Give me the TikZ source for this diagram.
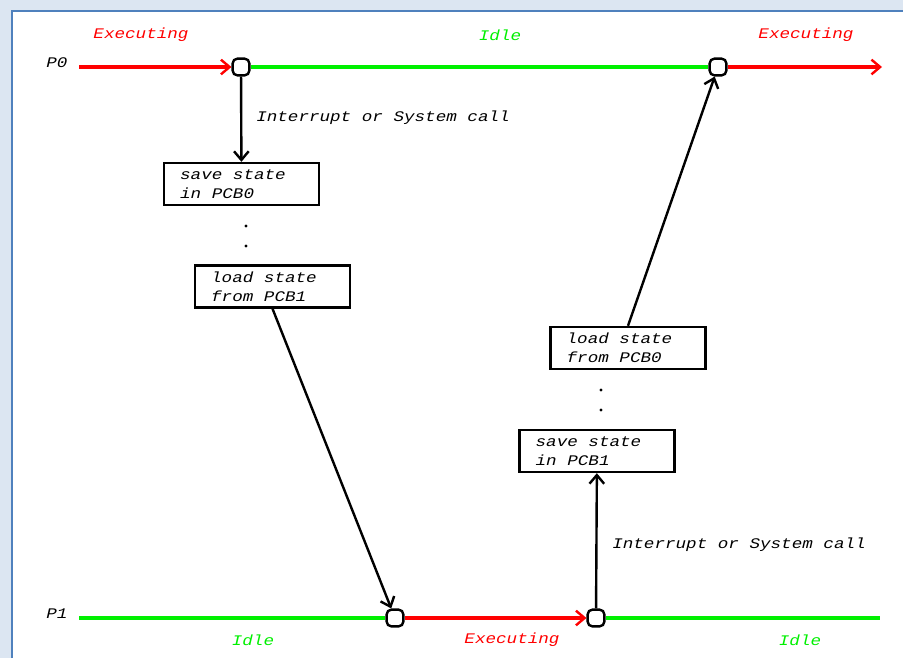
\documentclass[tikz,border=0pt]{standalone}
\usepackage{fontspec}
\usetikzlibrary{arrows.meta}
\newfontfamily\sketchfont[FakeStretch=1.2]{Liberation Mono}
\definecolor{runred}{RGB}{255,0,0}
\definecolor{idlegreen}{RGB}{0,240,0}
\definecolor{framebg}{RGB}{220,230,242}
\definecolor{frameline}{RGB}{79,129,189}
\tikzset{
	lbl/.style={font=\sketchfont\itshape\fontsize{11}{14.25}\selectfont, inner sep=0pt},
	switchpt/.style={draw, line width=1.8pt, fill=white, rounded corners=3.5pt, minimum size=12.5pt, inner sep=0pt},
	statebox/.style={lbl, draw, line width=1.8pt, text width=92pt, inner xsep=12pt, inner ysep=0pt, minimum height=31.5pt, align=flush left},
	gapdot/.style={circle, fill, inner sep=0pt, minimum size=2.4pt},
	running/.style={runred, line width=2.4pt},
	waiting/.style={idlegreen, line width=2.4pt},
	tip/.style={-{Straight Barb[length=6.5pt,width=11pt,line width=1.8pt]}},
	ctx/.style={line width=1.8pt, tip},
}

\begin{document}
\begin{tikzpicture}[x=0.75pt, y=-0.75pt]
				\useasboundingbox (0,0) rectangle (903,658);
				\fill[framebg] (0,0) rectangle (903,658);
				\fill[white] (13,12) rectangle (903,658);
				\draw[frameline, line width=1.5pt] (12,658) -- (12,11) -- (903,11);
				
				% process lines
				\node[lbl] (P0) at (57,63) {P0};
				\node[lbl] (P1) at (57,614) {P1};
				\coordinate (p0start) at (79,67);
				\coordinate (p0end) at (882,67);
				\coordinate (p1start) at (79,618);
				\coordinate (p1end) at (880,618);
				\node[switchpt] (sw0) at (241,67) {};
				\node[switchpt] (sw1) at (718,67) {};
				\node[switchpt] (sw2) at (395,618) {};
				\node[switchpt] (sw3) at (596,618) {};
				\draw[running, tip] (p0start) -- (sw0.west);
				\draw[waiting] (sw0.east) -- (sw1.west);
				\draw[running, tip] (sw1.east) -- (p0end);
				\draw[waiting] (p1start) -- (sw2.west);
				\draw[running, tip] (sw2.east) -- (sw3.west);
				\draw[waiting] (sw3.east) -- (p1end);
				
				\node[lbl, runred] (exec0) at (141,35) {Executing};
				\node[lbl, idlegreen] (idle0) at (500,35) {Idle};
				\node[lbl, runred] (exec1) at (806,35) {Executing};
				\node[lbl, idlegreen] (idle1) at (253,640) {Idle};
				\node[lbl, runred] (exec2) at (512,640) {Executing};
				\node[lbl, idlegreen] (idle2) at (800,640) {Idle};
				
				% context switch P0 -> P1
				\node[statebox] (save0) at (241.5,184) {save state\\in PCB0};
				\node[gapdot] (d0) at (246,226) {};
				\node[gapdot] (d1) at (246,246) {};
				\node[statebox] (load1) at (272.5,286.5) {load state\\from PCB1};
				\draw[ctx] (sw0) -- (save0);
				\node[lbl, anchor=west] (irq0) at (256,118) {Interrupt or System call};
				\draw[ctx] (load1.south) -- (sw2);
				
				% context switch P1 -> P0
				\node[statebox] (save1) at (597,451) {save state\\in PCB1};
				\node[gapdot] (d2) at (601,390) {};
				\node[gapdot] (d3) at (601,410) {};
				\node[statebox] (load0) at (628,348) {load state\\from PCB0};
				\draw[ctx] (sw3) -- (save1);
				\node[lbl, anchor=west] (irq1) at (612,545) {Interrupt or System call};
				\draw[ctx] (load0.north) -- (sw1);
				
\end{tikzpicture}
\end{document}
